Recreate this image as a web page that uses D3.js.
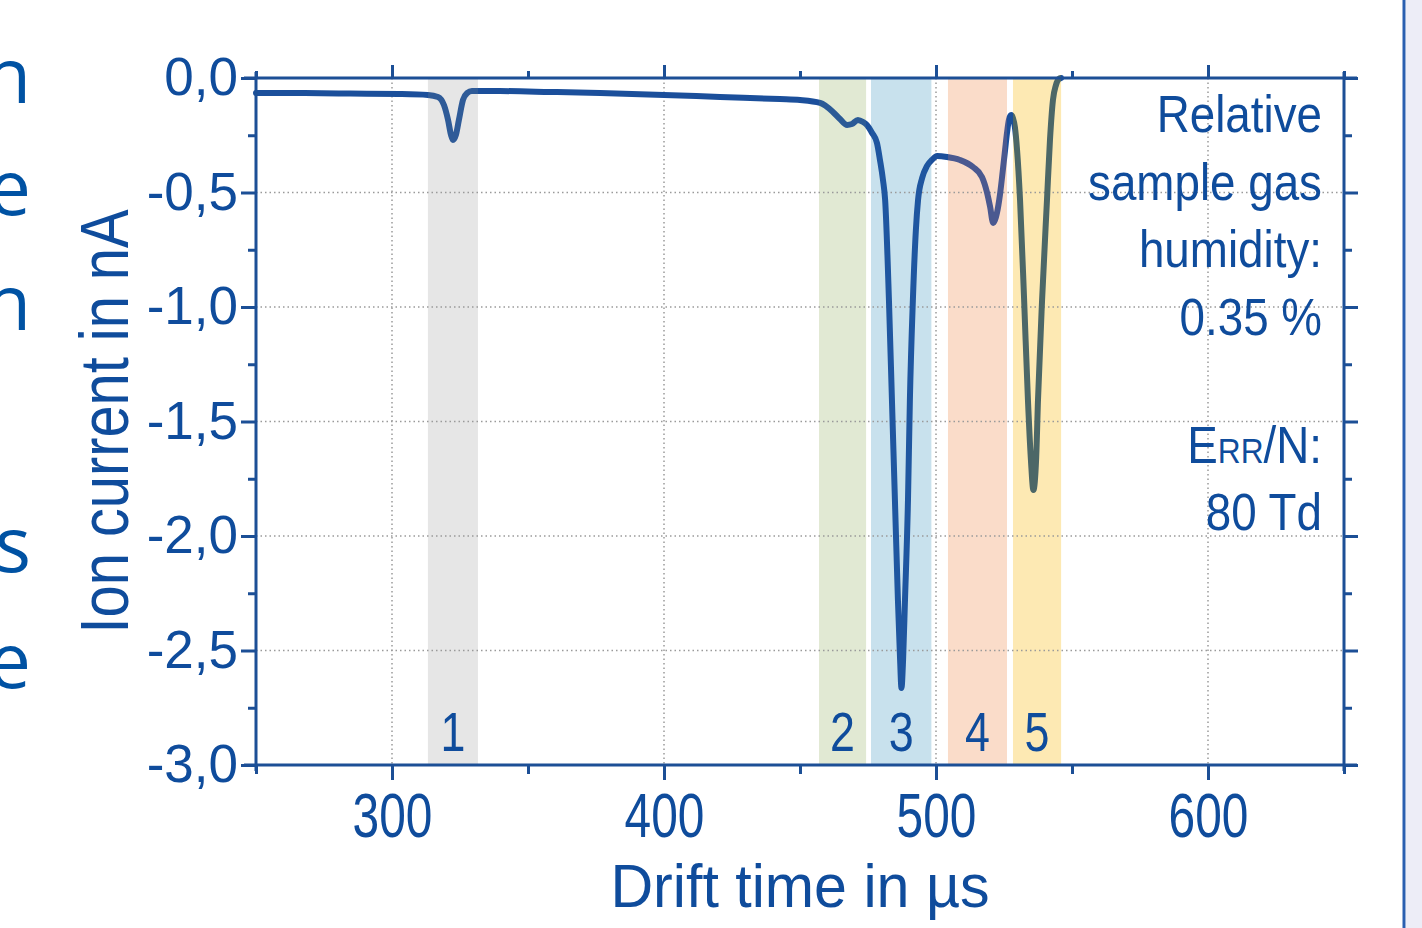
<!DOCTYPE html>
<html>
<head>
<meta charset="utf-8">
<script src="https://cdn.jsdelivr.net/npm/d3@7"></script>
<style>
  body { margin: 0; background: #fff; overflow: hidden; }
  svg { display: block; }
  text { font-family: "Liberation Sans", Arial, sans-serif; fill: #0f4c9c; }
</style>
</head>
<body>
<svg width="1422" height="928"></svg>
<script>
// drift time (µs) and ion current (nA)
var driftTime = [250, 266.2, 284.6, 302.9, 313.2, 316.9, 319.1, 320.6, 321.7, 322.4, 323.5, 324.6, 326.1, 327.6, 329.4,
  339.7, 358.1, 376.5, 400, 420.6, 442.6, 450, 457.4, 462.1, 464.7, 467.3, 469.1, 471.3, 473.2, 474.6, 476.5, 478.3,
  479.4, 480.5, 481.3, 482.7, 483.8, 484.9, 486.0, 486.8, 487.3, 487.9, 488.6, 489.7, 490.4, 491.5, 492.6, 493.4,
  494.9, 496.7, 498.5, 500.4, 504.0, 508.8, 513.6, 516.9, 518.8, 519.9, 521.0,
  521.7, 522.4, 523.5, 524.3, 525.4, 526.1, 526.8, 527.6, 528.3, 529.0, 529.8, 530.9, 532.4, 533.8, 534.9, 535.8,
  536.8, 537.5, 539.0, 540.8, 541.9, 543.0, 544.1, 545.2, 546.0];
var ionCurrent = [-0.066, -0.066, -0.068, -0.070, -0.074, -0.083, -0.118, -0.183, -0.249, -0.271, -0.249, -0.183, -0.096, -0.066, -0.057,
  -0.057, -0.061, -0.066, -0.074, -0.083, -0.092, -0.096, -0.109, -0.148, -0.179, -0.205, -0.201, -0.183, -0.192, -0.205, -0.240, -0.284,
  -0.358, -0.445, -0.533, -0.970, -1.406, -1.843, -2.279, -2.541, -2.664, -2.541, -2.279, -1.843, -1.406, -0.970, -0.664, -0.533,
  -0.437, -0.384, -0.358, -0.341, -0.345, -0.358, -0.389, -0.432, -0.502, -0.563, -0.633,
  -0.620, -0.590, -0.511, -0.432, -0.314, -0.240, -0.183, -0.162, -0.175, -0.214, -0.314, -0.533, -0.970, -1.406, -1.668, -1.799,
  -1.668, -1.406, -0.970, -0.533, -0.271, -0.096, -0.031, -0.004, 0];

var xTicks = [300, 400, 500, 600];
var xMinorTicks = [250, 350, 450, 550, 650];
var yTicks = [0, -0.5, -1, -1.5, -2, -2.5, -3];
var yMinorTicks = [-0.25, -0.75, -1.25, -1.75, -2.25, -2.75];
var xGrid = [300, 400, 500, 600];
var yGrid = [-0.5, -1, -1.5, -2, -2.5];

// peak regions
var bandStart = [313.2, 457.0, 476.1, 504.4, 528.3];
var bandEnd = [331.6, 474.3, 498.3, 526.1, 546.0];
var bandLabel = ["1", "2", "3", "4", "5"];

var infoLines = ["Relative", "sample gas", "humidity:", "0.35 %", "", "E|RR|/N:", "80 Td"];
var sideLetters = ["n", "e", "n", "", "s", "e"];

// styles
var bandFill = ["#e6e6e6", "#e1e9d3", "#c8e1ed", "#fadcc9", "#fde9b3"];
var lineOnBand = ["#2f5b98", "#2b5a96", "#1f56a0", "#4a5990", "#4c6767"];
var lineColor = "#1b4f9b";
var axisColor = "#1c4f96";

var svg = d3.select("svg");

var x = d3.scaleLinear().domain([250, 650]).range([256, 1344]);
var y = d3.scaleLinear().domain([-3, 0]).range([765, 78]);

// right edge of the slide
svg.append("rect").attr("x", 1406).attr("y", 0).attr("width", 16).attr("height", 928).attr("fill", "#ededf7");
svg.append("line").attr("x1", 1404).attr("x2", 1404).attr("y1", 0).attr("y2", 928)
  .attr("stroke", "#2b5fb0").attr("stroke-width", 3);

// cut-off words of the slide text on the left
var sideBase = [103, 215, 330, 446, 572, 688];
svg.append("g").selectAll("text")
  .data(sideLetters)
  .enter().append("text")
  .attr("x", 31)
  .attr("y", function (d, i) { return sideBase[i]; })
  .attr("text-anchor", "end")
  .style("font-family", "'Open Sans', 'Noto Sans', sans-serif")
  .style("font-size", "76px")
  .style("fill", "#0052a3")
  .text(function (d) { return d; });

// bands
svg.append("g").selectAll("rect")
  .data(bandStart)
  .enter().append("rect")
  .attr("x", function (d) { return x(d); })
  .attr("y", y(0))
  .attr("width", function (d, i) { return x(bandEnd[i]) - x(d); })
  .attr("height", y(-3) - y(0))
  .attr("fill", function (d, i) { return bandFill[i]; });

// grid
var grid = svg.append("g")
  .attr("stroke", "#9a9a9a")
  .attr("stroke-width", 1.5)
  .attr("stroke-dasharray", "1.5,3");
grid.selectAll(".gx").data(xGrid).enter().append("line")
  .attr("x1", function (d) { return x(d); }).attr("x2", function (d) { return x(d); })
  .attr("y1", y(0)).attr("y2", y(-3));
grid.selectAll(".gy").data(yGrid).enter().append("line")
  .attr("y1", function (d) { return y(d); }).attr("y2", function (d) { return y(d); })
  .attr("x1", x(250)).attr("x2", x(650));

// line colour changes where it crosses the tinted bands
var grad = svg.append("defs").append("linearGradient")
  .attr("id", "lineTint")
  .attr("gradientUnits", "userSpaceOnUse")
  .attr("x1", x(250)).attr("x2", x(650)).attr("y1", 0).attr("y2", 0);
var span = x(650) - x(250);
var stops = [{o: 0, c: lineColor}];
bandStart.forEach(function (s, i) {
  var a = (x(s) - x(250)) / span, b = (x(bandEnd[i]) - x(250)) / span;
  stops.push({o: a, c: lineColor}, {o: a, c: lineOnBand[i]}, {o: b, c: lineOnBand[i]}, {o: b, c: lineColor});
});
stops.push({o: 1, c: lineColor});
grad.selectAll("stop").data(stops).enter().append("stop")
  .attr("offset", function (d) { return d.o; })
  .attr("stop-color", function (d) { return d.c; });

var line = d3.line()
  .x(function (d, i) { return x(driftTime[i]); })
  .y(function (d) { return y(d); })
  .curve(d3.curveMonotoneX);

svg.append("path")
  .datum(ionCurrent)
  .attr("d", line)
  .attr("fill", "none")
  .attr("stroke", "url(#lineTint)")
  .attr("stroke-width", 6)
  .attr("stroke-linejoin", "round")
  .attr("stroke-linecap", "round");

// peak numbers
svg.append("g").selectAll("text")
  .data(bandLabel)
  .enter().append("text")
  .attr("transform", function (d, i) {
    return "translate(" + x((bandStart[i] + bandEnd[i]) / 2) + ",751) scale(0.8,1)";
  })
  .attr("text-anchor", "middle")
  .style("font-size", "56px")
  .text(function (d) { return d; });

// frame
var frame = svg.append("g").attr("stroke", axisColor).attr("stroke-width", 3);
frame.append("line").attr("x1", x(250) - 12).attr("x2", x(650) + 13).attr("y1", y(0)).attr("y2", y(0));
frame.append("line").attr("x1", x(250) - 12).attr("x2", x(650) + 13).attr("y1", y(-3)).attr("y2", y(-3));
frame.append("line").attr("x1", x(250)).attr("x2", x(250)).attr("y1", y(0) - 6).attr("y2", y(-3) + 6);
frame.append("line").attr("x1", x(650)).attr("x2", x(650)).attr("y1", y(0) - 6).attr("y2", y(-3) + 6);

function styleAxis(g) {
  g.select(".domain").remove();
  g.selectAll(".tick line").attr("stroke", axisColor).attr("stroke-width", 3);
}

// bottom
svg.append("g").attr("transform", "translate(0," + y(-3) + ")")
  .call(d3.axisBottom(x).tickValues(xMinorTicks).tickSize(9).tickFormat(""))
  .call(styleAxis);
var xb = svg.append("g").attr("transform", "translate(0," + y(-3) + ")")
  .call(d3.axisBottom(x).tickValues(xTicks).tickSize(15).tickPadding(12).tickFormat(d3.format("d")))
  .call(styleAxis);
xb.selectAll(".tick text")
  .attr("fill", null)
  .attr("transform", "scale(0.76,1)")
  .style("font-size", "63px");

// top
svg.append("g").attr("transform", "translate(0," + y(0) + ")")
  .call(d3.axisTop(x).tickValues(xMinorTicks).tickSize(7).tickFormat(""))
  .call(styleAxis);
svg.append("g").attr("transform", "translate(0," + y(0) + ")")
  .call(d3.axisTop(x).tickValues(xTicks).tickSize(13).tickFormat(""))
  .call(styleAxis);

// left
svg.append("g").attr("transform", "translate(" + x(250) + ",0)")
  .call(d3.axisLeft(y).tickValues(yMinorTicks).tickSize(8).tickFormat(""))
  .call(styleAxis);
var yl = svg.append("g").attr("transform", "translate(" + x(250) + ",0)")
  .call(d3.axisLeft(y).tickValues(yTicks).tickSize(15).tickPadding(3)
    .tickFormat(function (d) { return d.toFixed(1).replace(".", ","); }))
  .call(styleAxis);
yl.selectAll(".tick text").attr("fill", null).style("font-size", "53px");

// right
svg.append("g").attr("transform", "translate(" + x(650) + ",0)")
  .call(d3.axisRight(y).tickValues(yMinorTicks).tickSize(8).tickFormat(""))
  .call(styleAxis);
svg.append("g").attr("transform", "translate(" + x(650) + ",0)")
  .call(d3.axisRight(y).tickValues(yTicks).tickSize(14).tickFormat(""))
  .call(styleAxis);

// axis titles
svg.append("text")
  .attr("transform", "translate(" + (x(250) + x(650)) / 2 + ",907) scale(0.97,1)")
  .attr("text-anchor", "middle")
  .style("font-size", "61px")
  .text("Drift time in µs");

svg.append("text")
  .attr("transform", "translate(128," + (y(0) + y(-3)) / 2 + ") rotate(-90) scale(0.85,1)")
  .attr("text-anchor", "middle")
  .style("font-size", "68px")
  .text("Ion current in nA");

// conditions note
var infoBase = [132, 200, 267, 335, 399, 463, 530];
infoLines.forEach(function (s, i) {
  if (!s) return;
  var t = svg.append("text")
    .attr("transform", "translate(1322," + infoBase[i] + ") scale(0.88,1)")
    .attr("text-anchor", "end")
    .style("font-size", "52px");
  s.split("|").forEach(function (part, k) {
    t.append("tspan").style("font-size", k === 1 ? "36px" : "52px").text(part);
  });
});
</script>
</body>
</html>
